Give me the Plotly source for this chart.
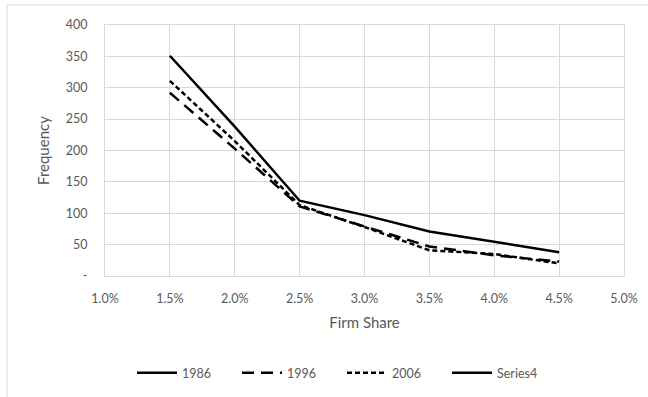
import plotly.graph_objects as go

x_share = [0.015, 0.020, 0.025, 0.030, 0.035, 0.040, 0.045]
y_1986 = [351, 238, 120, 97, 71, 55, 38]
y_1996 = [292, 203, 111, 79, 47, 33, 23]
y_2006 = [311, 215, 113, 78, 41, 35, 20]
y_series4 = [None] * 7
x_ticks = [0.010, 0.015, 0.020, 0.025, 0.030, 0.035, 0.040, 0.045, 0.050]
x_ticklabels = ["1.0%", "1.5%", "2.0%", "2.5%", "3.0%", "3.5%", "4.0%", "4.5%", "5.0%"]
y_ticks = [0, 50, 100, 150, 200, 250, 300, 350, 400]
y_ticklabels = ["-", "50", "100", "150", "200", "250", "300", "350", "400"]

W, H = 648, 397
ML, MR, MT, MB = 105, 24, 25, 121
pw = W - ML - MR
ph = H - MT - MB

fig = go.Figure()
fig.add_trace(go.Scatter(x=x_share, y=y_1986, name="1986", mode="lines",
                         line=dict(color="black", width=2.5)))
fig.add_trace(go.Scatter(x=x_share, y=y_1996, name="1996", mode="lines",
                         line=dict(color="black", width=2.5, dash="12px,7px")))
fig.add_trace(go.Scatter(x=x_share, y=y_2006, name="2006", mode="lines",
                         line=dict(color="black", width=2.5, dash="5px,3px")))
fig.add_trace(go.Scatter(x=x_share, y=y_series4, name="Series4", mode="lines",
                         line=dict(color="black", width=2.5)))

# outer chart border (top/left visible; right/bottom outside window)
fig.add_shape(type="rect", xref="paper", yref="paper",
              x0=(7 - ML) / pw, x1=(W + 10 - ML) / pw,
              y0=-(H + 10 - MT - ph) / ph, y1=1 + (MT - 5) / ph,
              line=dict(color="#d9d9d9", width=1), layer="below")

fig.update_layout(
    width=W, height=H,
    margin=dict(l=ML, r=MR, t=MT, b=MB, autoexpand=False),
    paper_bgcolor="white", plot_bgcolor="white",
    font=dict(family="Lato, Liberation Sans, sans-serif", size=12.5, color="#595959"),
    xaxis=dict(range=[0.010, 0.050], tickvals=x_ticks, ticktext=x_ticklabels,
               showgrid=True, gridcolor="#d9d9d9", gridwidth=1,
               zeroline=False, showline=True, linecolor="#d9d9d9", mirror=True,
               ticks="", ticklabelstandoff=11,
               title=dict(text="Firm Share", standoff=12)),
    yaxis=dict(range=[0, 400], tickvals=y_ticks, ticktext=y_ticklabels,
               showgrid=True, gridcolor="#d9d9d9", gridwidth=1,
               zeroline=False, showline=True, linecolor="#d9d9d9", mirror=True,
               ticks="", ticklabelstandoff=14,
               title=dict(text="Frequency", standoff=12)),
    legend=dict(orientation="h", x=(132 - ML) / pw, xanchor="left",
                y=-(373 - MT - ph) / ph, yanchor="middle",
                font=dict(size=12.5, color="#595959"),
                entrywidth=50, entrywidthmode="pixels", itemwidth=40,
                traceorder="normal"),
    showlegend=True,
)

fig.write_html("out.html", config={"displayModeBar": False},
               post_script="document.body.style.margin='0';document.body.style.overflow='hidden';")
